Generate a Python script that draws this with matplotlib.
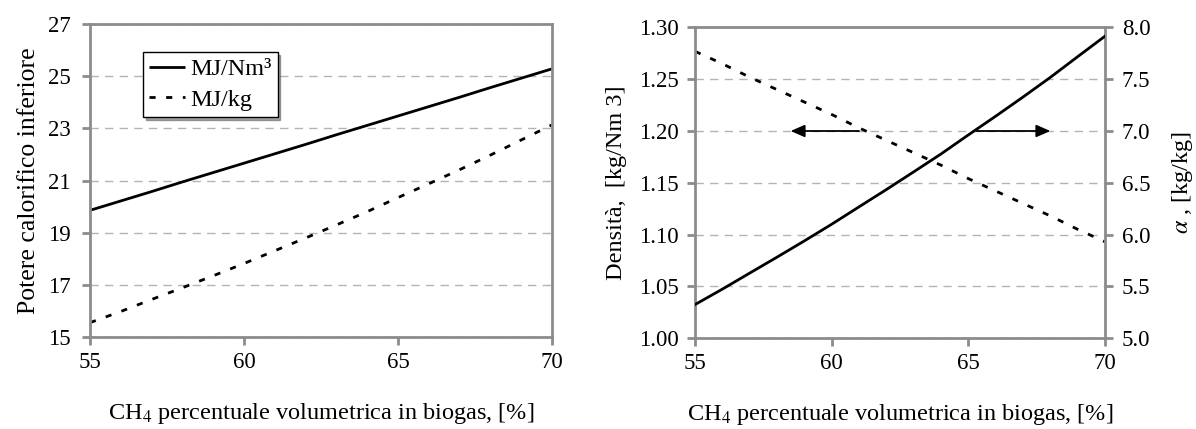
import matplotlib
matplotlib.use("Agg")
import matplotlib.pyplot as plt
from matplotlib.ticker import FormatStrFormatter

plt.rcParams['font.family'] = ['Liberation Serif', 'DejaVu Serif']
plt.rcParams['mathtext.fontset'] = 'stix'
plt.rcParams['font.size'] = 17

# CH4 volume fraction in biogas, [%]
ch4 = [55, 56, 57, 58, 59, 60, 61, 62, 63, 64, 65, 66, 67, 68, 69, 70]

# lower heating value
pci_nm3 = [19.86, 20.22, 20.58, 20.95, 21.31, 21.67, 22.03, 22.39,
           22.76, 23.12, 23.48, 23.84, 24.20, 24.57, 24.93, 25.29]
pci_kg = [15.55, 15.98, 16.44, 16.89, 17.35, 17.82, 18.31, 18.80,
          19.30, 19.81, 20.35, 20.88, 21.42, 21.98, 22.56, 23.14]

# density [kg/Nm3] and stoichiometric air/fuel ratio alpha [kg/kg]
densita = [1.277, 1.265, 1.252, 1.240, 1.228, 1.216, 1.203, 1.191,
           1.179, 1.167, 1.154, 1.142, 1.130, 1.118, 1.105, 1.093]
alpha = [5.323, 5.472, 5.627, 5.781, 5.938, 6.099, 6.267, 6.434,
         6.605, 6.778, 6.962, 7.143, 7.328, 7.518, 7.718, 7.916]

x_ticks = [55, 60, 65, 70]
pci_ticks = [15, 17, 19, 21, 23, 25, 27]
dens_ticks = [1.00, 1.05, 1.10, 1.15, 1.20, 1.25, 1.30]
alpha_ticks = [5.0, 5.5, 6.0, 6.5, 7.0, 7.5, 8.0]

xlabel = 'CH$_4$ percentuale volumetrica in biogas, [%]'

spine_c = '#8c8c8c'
grid_c = '#b4b4b4'
dash = (2.2, 3.8)
tick_fs = 16.5
lab_fs = 17.5


def style_axes(ax, ypad):
    for s in ax.spines.values():
        s.set_color(spine_c)
        s.set_linewidth(2.0)
    ax.tick_params(axis='both', which='major', direction='out', length=6,
                   width=2.0, color=spine_c, labelsize=tick_fs)
    ax.tick_params(axis='x', pad=5)
    ax.tick_params(axis='y', pad=ypad)
    ax.yaxis.grid(True, linestyle=(0, (6, 4.5)), color=grid_c, linewidth=1.0)
    ax.set_axisbelow(True)


fig = plt.figure(figsize=(11.96, 4.29), dpi=100)

# ---- left panel
ax1 = fig.add_axes([0.0753, 0.2145, 0.3863, 0.729])
style_axes(ax1, 8)
ax1.plot(ch4, pci_nm3, color='black', lw=2.0, label='MJ/Nm³', solid_capstyle='butt')
ax1.plot(ch4, pci_kg, color='black', lw=2.0, linestyle=(0, dash), label='MJ/kg')
ax1.set_xlim(55, 70)
ax1.set_ylim(15, 27)
ax1.set_xticks(x_ticks)
ax1.set_yticks(pci_ticks)
ax1.set_ylabel('Potere calorifico inferiore', fontsize=18.5, labelpad=6)
ax1.set_xlabel(xlabel, fontsize=lab_fs, labelpad=20)
leg = ax1.legend(loc='upper left', bbox_to_anchor=(0.114, 0.91), borderaxespad=0,
                 frameon=True, fancybox=False, shadow=True, framealpha=1,
                 edgecolor='black', handlelength=1.5, handletextpad=0.2,
                 borderpad=0.25, labelspacing=0.35, fontsize=17.5)
leg.get_frame().set_linewidth(1.0)

# ---- right panel
ax2 = fig.add_axes([0.5811, 0.2121, 0.3428, 0.7238])
style_axes(ax2, 6)
ax2.plot(ch4, densita, color='black', lw=2.0, linestyle=(0, dash))
ax2.set_xlim(55, 70)
ax2.set_ylim(1.00, 1.30)
ax2.set_xticks(x_ticks)
ax2.set_yticks(dens_ticks)
ax2.yaxis.set_major_formatter(FormatStrFormatter('%.2f'))
ax2.set_ylabel('Densità,  [kg/Nm 3]', fontsize=lab_fs, labelpad=8)
ax2.set_xlabel(xlabel, fontsize=lab_fs, labelpad=20)

ax3 = ax2.twinx()
for s in ax3.spines.values():
    s.set_visible(False)
ax3.plot(ch4, alpha, color='black', lw=2.0)
ax3.set_ylim(5.0, 8.0)
ax3.set_yticks(alpha_ticks)
ax3.yaxis.set_major_formatter(FormatStrFormatter('%.1f'))
ax3.tick_params(axis='y', direction='out', length=6, width=2.0, color=spine_c,
                pad=6, labelsize=tick_fs)
ax3.set_ylabel(r'$\alpha$ , [kg/kg]', fontsize=lab_fs, labelpad=14)

# arrows telling which curve belongs to which axis
arr = dict(arrowstyle='-|>,head_length=0.5,head_width=0.22', color='black', lw=1.3,
           shrinkA=0, shrinkB=0)
ax2.annotate('', xy=(58.5, 1.20), xytext=(61.0, 1.20), arrowprops=arr)
ax2.annotate('', xy=(68.0, 1.20), xytext=(65.3, 1.20), arrowprops=arr)

fig.savefig('out.png', dpi=100)
